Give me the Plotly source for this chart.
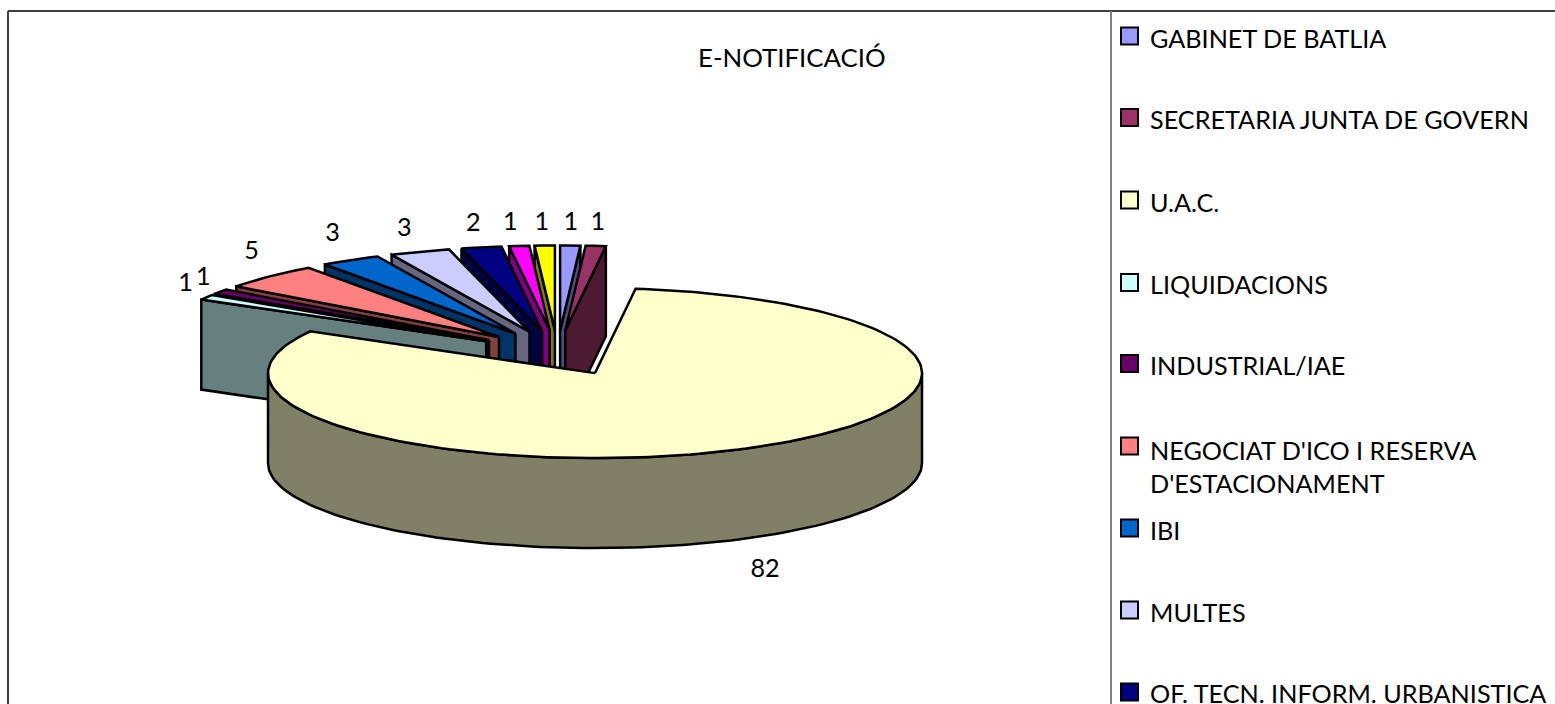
import math
import plotly.graph_objects as go

categories = ["GABINET DE BATLIA", "SECRETARIA JUNTA DE GOVERN", "U.A.C.", "LIQUIDACIONS",
              "INDUSTRIAL/IAE", "NEGOCIAT D'ICO I RESERVA<br>D'ESTACIONAMENT", "IBI", "MULTES",
              "OF. TECN. INFORM. URBANISTICA", "", ""]
values = [1, 1, 82, 1, 1, 5, 3, 3, 2, 1, 1]
top_colors = [(153, 153, 255), (153, 51, 102), (255, 255, 204), (204, 255, 255), (102, 0, 102),
              (255, 128, 128), (0, 102, 204), (204, 204, 255), (0, 0, 128), (255, 0, 255), (255, 255, 0)]
title = "E-NOTIFICACIÓ"

# pie projection
X0, Y0 = 557.5, 353
RX, RY = 327, 85
EXPLODE_X, EXPLODE_Y = 0.255, 0.265
DEPTH = 90
LINE = 2.5
# paint order, back to front
paint_order = [10, 9, 8, 7, 6, 5, 4, 3, 0, 1, 2]
# data-label nudges from the slice's outer mid-point
label_nudge = [(0.6, -22), (2, -22), (23, 122), (-21, -13), (-17, -13), (-18, -24), (-18, -25),
               (-15.5, -22), (-8, -23), (-9, -22), (-3, -22)]
# legend layout
legend_y = [36, 117.5, 200, 282.5, 363.5, 446, 528, 610, 692]
legend_text_y = [38, 119, 202, 284, 365, 466, 530, 612, 693]
FONT = "Lato, Carlito, Calibri, sans-serif"
FONT_SIZE = 25.2

def css(c, k=1.0):
    return "rgb(%d,%d,%d)" % tuple(round(v * k) for v in c)

total = sum(values)
spans = []
a = 0.0
for v in values:
    spans.append((a, a + v / total * 360))
    a += v / total * 360

def pt(c, deg):
    t = math.radians(deg)
    return c[0] + RX * math.sin(t), c[1] - RY * math.cos(t)

def centre(i):
    m = math.radians(sum(spans[i]) / 2)
    return X0 + EXPLODE_X * RX * math.sin(m), Y0 - EXPLODE_Y * RY * math.cos(m)

def arc(c, s, e):
    n = max(2, int((e - s) / 1.5) + 1)
    return [pt(c, s + (e - s) * k / n) for k in range(n + 1)]

fig = go.Figure()

def poly(points, color):
    xs = [p[0] for p in points] + [points[0][0]]
    ys = [p[1] for p in points] + [points[0][1]]
    fig.add_trace(go.Scatter(x=xs, y=ys, mode="lines", fill="toself", fillcolor=color,
                             line=dict(color="black", width=LINE), hoverinfo="skip", showlegend=False))

for i in paint_order:
    s, e = spans[i]
    c = centre(i)
    col = top_colors[i]
    wall = css(col, 0.5)
    if math.sin(math.radians(s)) < -1e-6:
        p = pt(c, s)
        poly([c, p, (p[0], p[1] + DEPTH), (c[0], c[1] + DEPTH)], wall)
    if math.sin(math.radians(e)) > 1e-6:
        p = pt(c, e)
        poly([c, p, (p[0], p[1] + DEPTH), (c[0], c[1] + DEPTH)], wall)
    fs, fe = max(s, 90), min(e, 270)
    if fs < fe:
        front = arc(c, fs, fe)
        poly(front + [(x, y + DEPTH) for x, y in reversed(front)], wall)
    poly([c] + arc(c, s, e), css(col))

# data labels
lx, ly = [], []
for i in range(len(values)):
    x, y = pt(centre(i), sum(spans[i]) / 2)
    lx.append(x + label_nudge[i][0])
    ly.append(y + label_nudge[i][1])
fig.add_trace(go.Scatter(x=lx, y=ly, mode="text", text=[str(v) for v in values],
                         textfont=dict(family=FONT, size=FONT_SIZE, color="black"),
                         textposition="middle center", hoverinfo="skip", showlegend=False))

# legend swatches
n_leg = len(legend_y)
fig.add_trace(go.Scatter(x=[1129.5] * n_leg, y=legend_y, mode="markers",
                         marker=dict(symbol="square", size=17,
                                     color=[css(c) for c in top_colors[:n_leg]],
                                     line=dict(color="black", width=2)),
                         hoverinfo="skip", showlegend=False))

annotations = [dict(x=791.5, y=57, xref="x", yref="y", text=title, showarrow=False,
                    font=dict(family=FONT, size=FONT_SIZE + 0.6, color="black"))]
for name, y in zip(categories[:n_leg], legend_text_y):
    annotations.append(dict(x=1148, y=y, xref="x", yref="y", text=name, showarrow=False,
                            xanchor="left", align="left", yanchor="middle",
                            font=dict(family=FONT, size=FONT_SIZE, color="black")))

shapes = [
    dict(type="line", xref="x", yref="y", x0=8, y0=11, x1=1555, y1=11, line=dict(color="#404040", width=2)),
    dict(type="line", xref="x", yref="y", x0=8, y0=11, x1=8, y1=704, line=dict(color="#404040", width=2)),
    dict(type="line", xref="x", yref="y", x0=1111, y0=11, x1=1111, y1=704, line=dict(color="#808080", width=2)),
]

fig.update_layout(width=1555, height=704, margin=dict(l=0, r=0, t=0, b=0),
                  paper_bgcolor="white", plot_bgcolor="white",
                  xaxis=dict(range=[0, 1555], visible=False, fixedrange=True),
                  yaxis=dict(range=[704, 0], visible=False, fixedrange=True),
                  annotations=annotations, shapes=shapes, showlegend=False)
fig.write_html("out.html", config=dict(displayModeBar=False),
               post_script="document.body.style.margin='0';document.body.style.overflow='hidden';")
